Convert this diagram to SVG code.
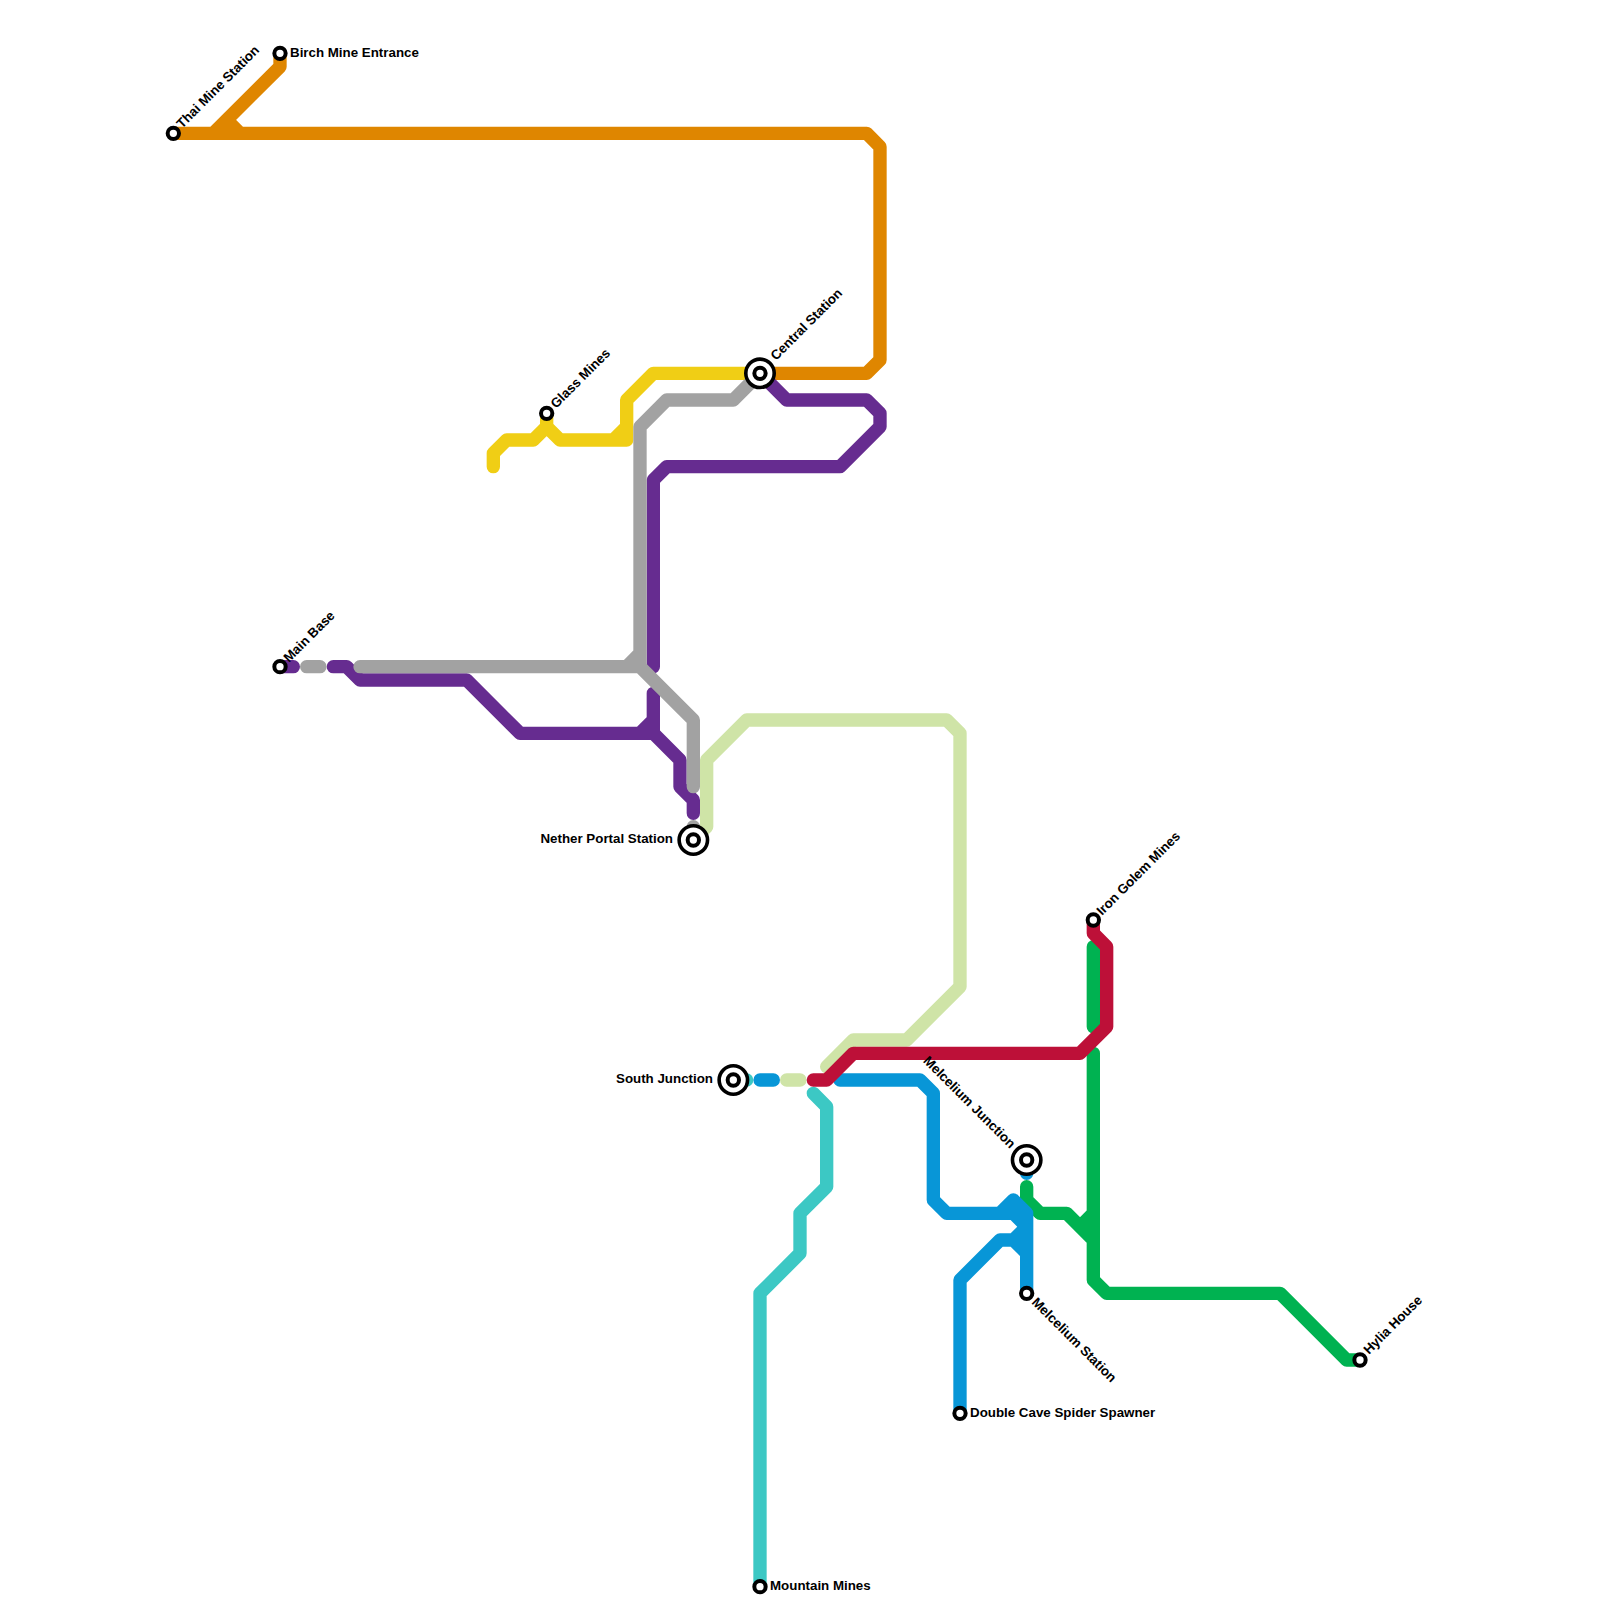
<svg xmlns="http://www.w3.org/2000/svg" width="1600" height="1600" viewBox="0 0 1600 1600">
<style>
.l{fill:none;stroke-width:1;stroke-linecap:round;stroke-linejoin:round}
.o{stroke:#df8600}.y{stroke:#f0ce15}.g{stroke:#a2a2a2}.p{stroke:#662c90}.n{stroke:#cfe4a7}.b{stroke:#0896d7}.r{stroke:#bd1038}.e{stroke:#00b251}.t{stroke:#3cc8c4}
.s{fill:#fff;stroke:#000;stroke-width:4}
.i{fill:#fff;stroke:#000;stroke-width:3.6}
text{font-family:"Liberation Sans",Arial,sans-serif;font-weight:700;font-size:13.33px;fill:#000}
</style>
<rect width="1600" height="1600" fill="#fff"/>
<g id="connectors">
<g transform="scale(13.3333)">
<path class="l o" d="M13 10H65L66 11V27L65 28H57M16 10L21 5V4M17 9L18 10"/>
<path class="l y" d="M37 35V34L38 33H40L41 32V31M41 32L42 33H46L47 32V30L49 28H57M46 33H47V32"/>
<path class="l n" d="M52 63L53 62V57L56 54H71L72 55V74L68 78H64L62 80M59 81H60"/>
<path class="l p" d="M21 50H22M25 50H26L27 51H35L39 55H49M48 55L49 54M49 52V55L51 57V59L52 60V61M49 50V36L50 35H63L66 32V31L65 30H59L57 28"/>
<path class="l g" d="M57 28L55 30H50L48 32V50M47 50L48 49M27 50H48L52 54V59M52 62V63M23 50H24"/>
<path class="l t" d="M55 81H56M61 82L62 83V89L60 91V94L57 97V119"/>
<path class="l e" d="M82 71V77M82 79V96L83 97H96L101 102H102M77 89V90L78 91H80L82 93M81 92L82 91"/>
<path class="l b" d="M57 81H58M63 81H69L70 82V90L71 91H75L76 90L77 91V97M75 91H76L77 92L76 93L77 94M77 92L76 93H75L72 96V106M77 87V88"/>
<path class="l r" d="M82 69V70L83 71V77L81 79H64L62 81H61"/>
</g>
</g>
<g id="thai-mine-station"><circle class="s" cx="173.33" cy="133.33" r="5.67"/><text transform="translate(182 129) rotate(-45)">Thai Mine Station</text></g>
<g id="birch-mine-entrance"><circle class="s" cx="280" cy="53.33" r="5.67"/><text x="290" y="57">Birch Mine Entrance</text></g>
<g id="glass-mines"><circle class="s" cx="546.67" cy="413.33" r="5.67"/><text transform="translate(556 409) rotate(-45)">Glass Mines</text></g>
<g id="central-station"><circle class="i" cx="760" cy="373.33" r="14.2"/><circle class="s" cx="760" cy="373.33" r="5.67"/><text transform="translate(776 361) rotate(-45)">Central Station</text></g>
<g id="main-base"><circle class="s" cx="280" cy="666.67" r="5.67"/><text transform="translate(289 663) rotate(-45)">Main Base</text></g>
<g id="nether-portal-station"><circle class="i" cx="693.33" cy="840" r="14.2"/><circle class="s" cx="693.33" cy="840" r="5.67"/><text x="673" y="843" text-anchor="end">Nether Portal Station</text></g>
<g id="south-junction"><circle class="i" cx="733.33" cy="1080" r="14.2"/><circle class="s" cx="733.33" cy="1080" r="5.67"/><text x="713" y="1083" text-anchor="end">South Junction</text></g>
<g id="melcelium-junction"><circle class="i" cx="1026.67" cy="1160" r="14.2"/><circle class="s" cx="1026.67" cy="1160" r="5.67"/><text transform="translate(1010 1149) rotate(45)" text-anchor="end">Melcelium Junction</text></g>
<g id="melcelium-station"><circle class="s" cx="1026.67" cy="1293.33" r="5.67"/><text transform="translate(1031 1303) rotate(45)">Melcelium Station</text></g>
<g id="iron-golem-mines"><circle class="s" cx="1093.33" cy="920" r="5.67"/><text transform="translate(1102 916) rotate(-45)">Iron Golem Mines</text></g>
<g id="hylia-house"><circle class="s" cx="1360" cy="1360" r="5.67"/><text transform="translate(1369 1355) rotate(-45)">Hylia House</text></g>
<g id="double-cave-spider-spawner"><circle class="s" cx="960" cy="1413.33" r="5.67"/><text x="970" y="1417">Double Cave Spider Spawner</text></g>
<g id="mountain-mines"><circle class="s" cx="760" cy="1586.67" r="5.67"/><text x="770" y="1590">Mountain Mines</text></g>
</svg>
